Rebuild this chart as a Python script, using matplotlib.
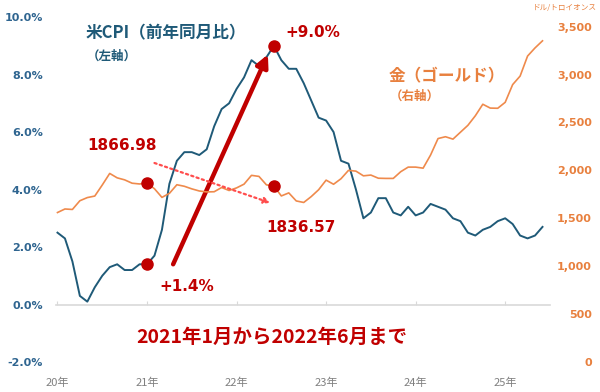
import matplotlib
matplotlib.use('Agg')
import matplotlib.pyplot as plt

# 米CPI 前年同月比(%) 2020年1月〜2025年6月
cpi = [2.5, 2.3, 1.5, 0.3, 0.1, 0.6, 1.0, 1.3, 1.4, 1.2, 1.2, 1.4,
       1.4, 1.7, 2.6, 4.2, 5.0, 5.3, 5.3, 5.2, 5.4, 6.2, 6.8, 7.0,
       7.5, 7.9, 8.5, 8.3, 8.6, 9.0, 8.5, 8.2, 8.2, 7.7, 7.1, 6.5,
       6.4, 6.0, 5.0, 4.9, 4.0, 3.0, 3.2, 3.7, 3.7, 3.2, 3.1, 3.4,
       3.1, 3.2, 3.5, 3.4, 3.3, 3.0, 2.9, 2.5, 2.4, 2.6, 2.7, 2.9,
       3.0, 2.8, 2.4, 2.3, 2.4, 2.7]

# 金価格 月平均(ドル/トロイオンス)
gold = [1560, 1597, 1592, 1683, 1716, 1732, 1847, 1968, 1922, 1901, 1866, 1858,
        1866.98, 1808, 1718, 1760, 1850, 1834, 1807, 1785, 1775, 1777, 1821, 1790,
        1817, 1856, 1948, 1937, 1849, 1836.57, 1733, 1765, 1681, 1665, 1726, 1798,
        1898, 1855, 1913, 2000, 1992, 1943, 1951, 1918, 1916, 1916, 1986, 2034,
        2034, 2023, 2160, 2332, 2351, 2326, 2398, 2470, 2570, 2690, 2650, 2648,
        2710, 2895, 2984, 3193, 3278, 3352]

months = list(range(len(cpi)))
year_ticks = [0, 12, 24, 36, 48, 60]
year_labels = ['20年', '21年', '22年', '23年', '24年', '25年']
left_ticks = [-2, 0, 2, 4, 6, 8, 10]
right_ticks = [0, 500, 1000, 1500, 2000, 2500, 3000, 3500]

i_start, i_end = 12, 29  # 2021年1月, 2022年6月

blue = '#1f5a78'
blue_lbl = '#2f6590'
orange = '#ef8a4c'
orange_lbl = '#e8803e'
red = '#c00000'
jp = ['Noto Sans CJK JP', 'DejaVu Sans']
num = ['DejaVu Sans', 'Noto Sans CJK JP']

fig = plt.figure(figsize=(6, 3.92), dpi=100)
ax = fig.add_axes([0.0933, 0.0765, 0.8233, 0.88])
ax2 = ax.twinx()

ax.plot(months, cpi, color=blue, lw=1.4, zorder=3)
ax2.plot(months, gold, color=orange, lw=1.2, zorder=2)

ax.set_xlim(-0.2, 66)
ax.set_ylim(-2, 10)
ax2.set_ylim(0, 3600)

# 軸の体裁
for a in (ax, ax2):
    for s in a.spines.values():
        s.set_visible(False)
ax.spines['bottom'].set_visible(True)
ax.spines['bottom'].set_position(('data', 0))
ax.spines['bottom'].set_color('#d9d9d9')
ax.spines['bottom'].set_linewidth(1.2)
ax.set_xticks(year_ticks)
ax.tick_params(axis='x', direction='in', length=3, color='#d9d9d9', labelbottom=False)
sec = ax.secondary_xaxis('bottom')
sec.set_xticks(year_ticks, year_labels)
sec.spines['bottom'].set_visible(False)
sec.tick_params(length=0, pad=11, labelcolor='#808080')
for t in sec.get_xticklabels():
    t.set_family(jp)
    t.set_fontsize(8)

ax.set_yticks(left_ticks, [f'{v:.1f}%' for v in left_ticks])
ax.tick_params(axis='y', length=0, pad=9.5, labelcolor=blue_lbl, labelsize=8)
for t in ax.get_yticklabels():
    t.set_fontweight('bold')
ax2.set_yticks(right_ticks, [f'{v:,}' for v in right_ticks])
ax2.tick_params(axis='y', length=0, pad=30, labelcolor=orange_lbl, labelsize=8)
for t in ax2.get_yticklabels():
    t.set_fontweight('bold')
    t.set_horizontalalignment('right')

# 開始・終了点のマーカー
ax.plot([i_start, i_end], [cpi[i_start], cpi[i_end]], 'o', color=red, ms=8, zorder=5)
ax2.plot([i_start, i_end], [gold[i_start], gold[i_end]], 'o', color=red, ms=8, zorder=5)

# 矢印
ax.annotate('', xy=(i_end - 0.8, cpi[i_end] - 0.3), xytext=(i_start + 3.5, cpi[i_start]),
            arrowprops=dict(arrowstyle='-|>', color=red, lw=3.2, mutation_scale=18,
                            shrinkA=0, shrinkB=0), zorder=6)
ax2.annotate('', xy=(i_end - 0.5, gold[i_end] - 175), xytext=(i_start + 1, gold[i_start] + 210),
             arrowprops=dict(arrowstyle='-|>', color='#ff4d4d', lw=1.6, ls=(0, (1, 1.5)),
                             mutation_scale=9, shrinkA=0, shrinkB=0), zorder=6)

# テキスト
ax.text(8.7, 5.53, f'{gold[i_start]:.2f}', color=red, fontsize=11, fontweight='bold',
        family=num, ha='center', va='center')
ax.text(32.6, 2.68, f'{gold[i_end]:.2f}', color=red, fontsize=11, fontweight='bold',
        family=num, ha='center', va='center')
ax.text(34.2, 9.46, f'+{cpi[i_end]:.1f}%', color=red, fontsize=11, fontweight='bold',
        family=num, ha='center', va='center')
ax.text(17.3, 0.63, f'+{cpi[i_start]:.1f}%', color=red, fontsize=11, fontweight='bold',
        family=num, ha='center', va='center')
ax.text(28.7, -1.15, '2021年1月から2022年6月まで', color=red, fontsize=14, fontweight='bold',
        family=jp, ha='center', va='center')

ax.text(3.75, 9.43, '米CPI（前年同月比）', color=blue, fontsize=12, fontweight='bold',
        family=jp, ha='left', va='center')
ax.text(3.9, 8.63, '（左軸）', color=blue, fontsize=9, fontweight='bold',
        family=jp, ha='left', va='center')
ax.text(44.4, 7.95, '金（ゴールド）', color=orange_lbl, fontsize=12, fontweight='bold',
        family=jp, ha='left', va='center')
ax.text(44.5, 7.25, '（右軸）', color=orange_lbl, fontsize=9, fontweight='bold',
        family=jp, ha='left', va='center')
fig.text(0.995, 1 - 8 / 392, 'ドル/トロイオンス', color=orange_lbl, fontsize=5.5,
         family=jp, ha='right', va='center')

fig.savefig('out.png', dpi=100)
